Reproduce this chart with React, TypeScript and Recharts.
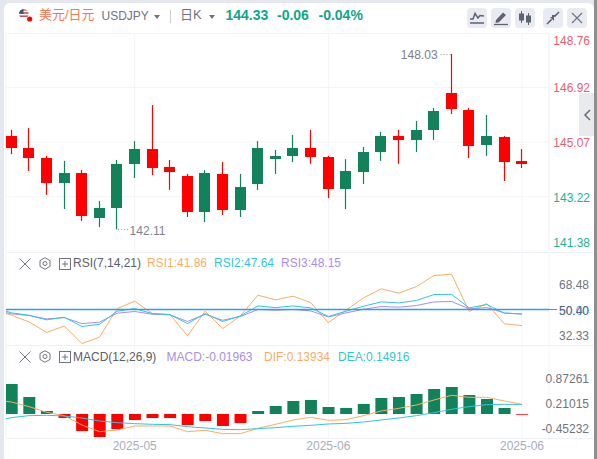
import React from "react";
import {
  ComposedChart, Bar, Line, XAxis, YAxis, CartesianGrid, ReferenceLine, ReferenceDot, Cell,
} from "recharts";

const FONT = '"Liberation Sans", "Noto Sans CJK SC", sans-serif';
const XDOMAIN: [number, number] = [-0.3124, 30.535];

const dateTicks = [7, 18, 29];
const dateLabels = ["2025-05", "2025-06", "2025-06"];

const priceTicks = [148.76, 146.92, 145.07, 143.22, 141.38];
const rsiTicks = [68.48, 50, 50.4, 32.33];
const macdTicks = [0.87261, 0.21015, -0.45232];

const opens = [144.87, 144.53, 143.68, 144.02, 142.57, 142.84, 144.33, 144.83, 144.19, 144.05, 142.7, 144.02, 142.77, 143.55, 144.87, 144.6, 144.87, 144.56, 143.48, 144.09, 144.73, 145.27, 145.14, 145.48, 146.12, 146.19, 144.93, 145.27, 144.39, 144.33];
const closes = [145.27, 144.87, 144.53, 143.68, 144.02, 142.5, 142.84, 144.33, 144.83, 144.22, 143.92, 142.7, 143.99, 142.77, 143.65, 144.49, 144.6, 144.87, 144.56, 143.48, 144.05, 144.73, 145.27, 145.14, 145.48, 146.73, 146.15, 144.97, 145.24, 144.43];
const highs = [145.48, 145.54, 144.6, 144.43, 144.12, 143.07, 144.46, 145.1, 146.32, 144.46, 143.99, 144.12, 144.39, 143.99, 145.1, 144.8, 145.31, 145.48, 144.6, 144.49, 144.9, 145.41, 145.48, 145.78, 146.22, 148.05, 146.22, 145.98, 145.27, 144.83];
const lows = [144.66, 144.09, 143.28, 142.8, 142.4, 142.19, 142.11, 143.85, 143.95, 143.45, 142.53, 142.36, 142.6, 142.53, 143.45, 143.99, 144.39, 144.33, 143.17, 142.8, 143.65, 144.43, 144.33, 144.73, 145.14, 146.02, 144.53, 144.6, 143.75, 144.19];

// Indicator series start one session before the first candle, running in from the left edge.
const rsi1 = [50, 45.9, 41.1, 33.5, 38.2, 25.5, 30.1, 50.7, 56, 47.1, 46.4, 31.1, 48.8, 36.3, 45.4, 60.3, 57, 59.6, 55, 40.6, 49.5, 58.4, 64.9, 61.8, 66.5, 74.5, 75.4, 48.6, 54.3, 39.7, 38.5];
const rsi2 = [51.7, 47.6, 45.9, 42.6, 44.5, 37.8, 39.4, 48.8, 50.7, 47.1, 46.4, 39.9, 47.1, 41.4, 45.4, 52.6, 51.4, 52.6, 51.2, 45, 48.8, 52.4, 55.5, 54.8, 56.5, 60.8, 61, 51.2, 53.6, 47.4, 46.9];
const rsi3 = [49.8, 46.9, 45.7, 43.3, 44.2, 39.9, 40.9, 47.4, 48.6, 46.6, 46.2, 41.4, 46.6, 42.3, 45, 50, 49.5, 50, 49, 44.7, 47.6, 50.2, 52.2, 51.7, 52.9, 55.5, 55.8, 50.5, 51.4, 47.6, 46.6];

const hist = [null, 0.796, 0.451, 0.08, -0.106, -0.451, -0.61, -0.398, -0.159, -0.106, -0.106, -0.292, -0.186, -0.318, -0.239, 0.08, 0.212, 0.345, 0.371, 0.186, 0.159, 0.265, 0.424, 0.451, 0.531, 0.663, 0.716, 0.504, 0.398, 0.159, -0.02];
const dif = [0.37, 0.318, 0.195, 0.044, -0.044, -0.292, -0.469, -0.424, -0.318, -0.318, -0.318, -0.469, -0.433, -0.522, -0.522, -0.38, -0.274, -0.159, -0.088, -0.168, -0.15, -0.044, 0.08, 0.15, 0.239, 0.371, 0.495, 0.442, 0.442, 0.345, 0.256];
const dea = [-0.186, -0.097, -0.044, -0.035, -0.053, -0.106, -0.186, -0.23, -0.256, -0.274, -0.283, -0.336, -0.371, -0.407, -0.416, -0.389, -0.363, -0.327, -0.301, -0.265, -0.248, -0.212, -0.159, -0.106, -0.044, 0.035, 0.124, 0.195, 0.248, 0.256, 0.256];

const RED = "#ff0000";
const GREEN = "#12825a";
const ORANGE = "#f9ad66";
const CYAN = "#33c5dc";
const PURPLE = "#a98ee9";
const BLUE = "#2f9cf5";
const GRID = "#f3f4f8";

const candles = opens.map((open, i) => ({
  i, open, close: closes[i], high: highs[i], low: lows[i], range: [lows[i], highs[i]],
}));
const rsiRows = rsi1.map((v, k) => ({ i: k - 1, rsi1: v, rsi2: rsi2[k], rsi3: rsi3[k] }));
const macdRows = hist.map((v, k) => ({ i: k - 1, hist: v, dif: dif[k], dea: dea[k] }));

function Candle(props: any) {
  const { x, y, width, height, payload } = props;
  const { open, close, high, low } = payload;
  const toY = (v: number) => y + ((high - v) / (high - low)) * height;
  const top = toY(Math.max(open, close));
  const bottom = toY(Math.min(open, close));
  const color = close >= open ? RED : GREEN;
  const cx = Math.floor(x + width / 2) + 0.5;
  return (
    <g>
      <line x1={cx} x2={cx} y1={y} y2={y + height} stroke={color} strokeWidth={1.2} />
      <rect x={cx - width / 2} y={Math.round(top)} width={width} height={Math.max(Math.round(bottom) - Math.round(top), 1)} fill={color} />
    </g>
  );
}

function PriceTick(props: any) {
  const { y, payload, index } = props;
  const v = payload.value;
  const color = v > 144.5 ? "#e4616f" : "#1fb093";
  const dy = index === 0 ? 8 : index === priceTicks.length - 1 ? -8 : 1;
  return (
    <text x={590} y={y + dy + 4} textAnchor="end" fontSize={12} fontFamily={FONT} fill={color}>
      {v.toFixed(2)}
    </text>
  );
}

function RsiTick(props: any) {
  const { y, payload } = props;
  const v = payload.value;
  const blue = v === 50;
  const mid = v === 50.4;
  return (
    <text x={589} y={(mid ? y + 0.5 : y) + 5.5} textAnchor="end" fontSize={12} fontFamily={FONT} fill={blue ? BLUE : mid ? "#5d6b82" : "#70747f"} fillOpacity={blue ? 0.85 : 1}>
      {v.toFixed(2)}
    </text>
  );
}

function MacdTick(props: any) {
  const { y, payload } = props;
  return (
    <text x={589} y={y + 1.5} textAnchor="end" fontSize={12} fontFamily={FONT} fill="#70747f">
      {payload.value.toFixed(5)}
    </text>
  );
}

function DateTick(props: any) {
  const { x, y, payload, index } = props;
  return (
    <text x={x} y={y + 4} textAnchor="middle" fontSize={12} fontFamily={FONT} fill="#a9adba">
      {dateLabels[index] ?? payload.value}
    </text>
  );
}

function HighMark(props: any) {
  const { cx, cy } = props;
  return (
    <g>
      <line x1={cx - 1} x2={cx - 13} y1={cy} y2={cy} stroke="#8d919c" strokeDasharray="1 2" />
      <text x={cx - 14} y={cy + 4} textAnchor="end" fontSize={12} fontFamily={FONT} fill="#7d818c">148.03</text>
    </g>
  );
}

function LowMark(props: any) {
  const { cx, cy } = props;
  return (
    <g>
      <line x1={cx + 1} x2={cx + 11} y1={cy} y2={cy} stroke="#8d919c" strokeDasharray="1 2" />
      <text x={cx + 12.5} y={cy + 5.5} textAnchor="start" fontSize={12} fontFamily={FONT} fill="#7d818c">142.11</text>
    </g>
  );
}

const abs = (s: React.CSSProperties): React.CSSProperties => ({ position: "absolute", whiteSpace: "nowrap", ...s });

function Txt({ x, y, c, size = 12, w = 400, children }: any) {
  return (
    <span style={abs({ left: x, top: y, color: c, fontSize: size, fontWeight: w, fontFamily: FONT, lineHeight: "16px" })}>
      {children}
    </span>
  );
}

function Btn({ x, children }: any) {
  return (
    <svg width={20} height={20} viewBox="0 0 20 20" style={abs({ left: x, top: 8 })}>
      <rect width={20} height={20} rx={4} fill="#e9ebf2" />
      {children}
    </svg>
  );
}

function RowIcons({ y }: { y: number }) {
  return (
    <>
      <svg width={12} height={12} viewBox="0 0 12 12" style={abs({ left: 19, top: y })}>
        <path d="M0.5 0.5L11.5 11.5M11.5 0.5L0.5 11.5" stroke="#70747f" strokeWidth={1} fill="none" />
      </svg>
      <svg width={12} height={13} viewBox="0 0 12 13" style={abs({ left: 39, top: y - 0.5 })}>
        <path d="M6 0.7L11 3.6V9.4L6 12.3L1 9.4V3.6Z" stroke="#70747f" fill="none" />
        <circle cx={6} cy={6.5} r={2} stroke="#70747f" fill="none" />
      </svg>
      <svg width={12} height={12} viewBox="0 0 12 12" style={abs({ left: 59, top: y })}>
        <rect x={0.5} y={0.5} width={11} height={11} stroke="#70747f" fill="none" />
        <path d="M3 6H9M6 3V9" stroke="#70747f" fill="none" />
      </svg>
    </>
  );
}

const Caret = ({ x }: { x: number }) => (
  <svg width={6} height={4} style={abs({ left: x, top: 14.5 })}>
    <path d="M0 0H6L3 4Z" fill="#70747f" />
  </svg>
);

export default function App() {
  const axisProps = {
    type: "number" as const,
    dataKey: "i",
    domain: XDOMAIN,
    allowDataOverflow: true,
    ticks: dateTicks,
    interval: 0 as const,
    tickLine: false,
    axisLine: false,
  };
  const chartMargin = { top: 0, right: 0, bottom: 0, left: 6 };
  return (
    <div style={abs({ left: 0, top: 0, width: 597, height: 459, overflow: "hidden", background: "#e5e7ee" })}>
      <div style={abs({ left: 4, top: 3, width: 590, height: 470, background: "#fff", borderRadius: 6 })} />
      <div style={abs({ left: 594, top: 0, width: 3, height: 459, background: "#8f8f8f" })} />

      {/* header */}
      <svg width={16} height={16} style={abs({ left: 18, top: 8 })}>
        <clipPath id="flag"><circle cx={5.8} cy={6} r={4.8} /></clipPath>
        <g clipPath="url(#flag)">
          <rect x={0} y={0} width={12} height={12} fill="#fff" />
          <rect x={0} y={1} width={12} height={1.6} fill="#c9515f" />
          <rect x={0} y={4.2} width={12} height={1.6} fill="#c9515f" />
          <rect x={0} y={7.4} width={12} height={1.6} fill="#c9515f" />
          <rect x={0} y={0} width={5.5} height={5.8} fill="#4a4f78" />
        </g>
        <circle cx={11.7} cy={11} r={2.6} fill="#ff0000" />
      </svg>
      <Txt x={39} y={7} c="#f5784f" size={13}>美元/日元</Txt>
      <Txt x={101.5} y={8} c="#70747f" size={12}>USDJPY</Txt>
      <Caret x={153.5} />
      <div style={abs({ left: 170, top: 10, width: 1, height: 13, background: "#c9ccd6" })} />
      <Txt x={180} y={7} c="#70747f" size={13}>日K</Txt>
      <Caret x={208.5} />
      <Txt x={225.5} y={7} c="#0fa688" size={14} w={700}>144.33</Txt>
      <Txt x={277} y={7} c="#0fa688" size={14} w={700}>-0.06</Txt>
      <Txt x={318.5} y={7} c="#0fa688" size={14} w={700}>-0.04%</Txt>

      <Btn x={467}>
        <path d="M3 11L6 11L8 5.5L11 10L13 7.5L17 8M3 15H17" stroke="#5e6370" strokeWidth={1.5} fill="none" />
      </Btn>
      <Btn x={491}>
        <path d="M5 12L12 4.5L15 7L8 14.2L4.5 15Z" fill="#5e6370" />
        <path d="M3 16.5H17" stroke="#5e6370" strokeWidth={1.3} />
      </Btn>
      <Btn x={515}>
        <path d="M6.5 3V15M13.5 5V17" stroke="#5e6370" />
        <rect x={4} y={5.5} width={5} height={7} fill="#5e6370" />
        <rect x={11} y={7.5} width={5} height={7} fill="#5e6370" />
      </Btn>
      <Btn x={543}>
        <path d="M4 16L8.6 11.4M16 4L11.4 8.6" stroke="#5e6370" strokeWidth={1.5} />
        <path d="M7 9H11V13Z M9 7H13L9 11Z" fill="#5e6370" />
      </Btn>
      <Btn x={567}>
        <path d="M5 5L15 15M15 5L5 15" stroke="#70747f" strokeWidth={1.2} fill="none" />
      </Btn>

      {/* price pane */}
      <div style={abs({ left: 6, top: 33, width: 543, height: 1, background: GRID })} />
      <div style={abs({ left: 0, top: 33 })}>
        <ComposedChart width={597} height={218} data={candles} margin={chartMargin}>
          <CartesianGrid stroke={GRID} />
          <XAxis {...axisProps} hide />
          <YAxis
            orientation="right"
            width={48}
            domain={[141.38, 148.76]}
            ticks={priceTicks}
            interval={0}
            allowDataOverflow
            tickLine={false}
            axisLine={{ stroke: GRID }}
            tick={<PriceTick />}
          />
          <Bar dataKey="range" barSize={11} isAnimationActive={false} shape={<Candle />} />
          <ReferenceDot x={25} y={148.03} r={0} shape={<HighMark />} />
          <ReferenceDot x={6} y={142.11} r={0} shape={<LowMark />} />
        </ComposedChart>
      </div>
      <div style={abs({ left: 579, top: 93, width: 15, height: 43, background: "#e9eaee" })} />
      <svg width={10} height={12} style={abs({ left: 583, top: 109 })}>
        <path d="M7 1L2 6L7 11" stroke="#6b7080" strokeWidth={1.6} fill="none" />
      </svg>

      {/* RSI pane */}
      <div style={abs({ left: 6, top: 252, width: 588, height: 1, background: "#eff0f5" })} />
      <div style={abs({ left: 0, top: 252 })}>
        <ComposedChart width={597} height={93} data={rsiRows} margin={chartMargin}>
          <CartesianGrid stroke={GRID} horizontal={false} />
          <XAxis {...axisProps} hide />
          <YAxis
            orientation="right"
            width={48}
            domain={[24.5, 91.4]}
            ticks={rsiTicks}
            interval={0}
            allowDataOverflow
            tickLine={false}
            axisLine={false}
            tick={<RsiTick />}
          />
          <Line dataKey="rsi1" stroke={ORANGE} strokeWidth={1} dot={false} isAnimationActive={false} />
          <Line dataKey="rsi3" stroke={PURPLE} strokeWidth={1} dot={false} isAnimationActive={false} />
          <Line dataKey="rsi2" stroke={CYAN} strokeWidth={1} dot={false} isAnimationActive={false} />
          <ReferenceLine y={50} stroke={BLUE} strokeWidth={1.5} />
        </ComposedChart>
      </div>
      <div style={abs({ left: 549, top: 308.8, width: 8, height: 1.5, background: BLUE })} />
      <RowIcons y={257.5} />
      <Txt x={73} y={255} c="#5a5e6a">RSI(7,14,21)</Txt>
      <Txt x={147} y={255} c={ORANGE}>RSI1:41.86</Txt>
      <Txt x={214} y={255} c={CYAN}>RSI2:47.64</Txt>
      <Txt x={281} y={255} c={PURPLE}>RSI3:48.15</Txt>

      {/* MACD pane */}
      <div style={abs({ left: 6, top: 345, width: 588, height: 1, background: "#eff0f5" })} />
      <div style={abs({ left: 0, top: 345 })}>
        <ComposedChart width={597} height={114} data={macdRows} margin={chartMargin}>
          <CartesianGrid stroke={GRID} horizontal={false} />
          <XAxis {...axisProps} height={21} tick={<DateTick />} />
          <YAxis
            orientation="right"
            width={48}
            domain={[-0.637, 1.83]}
            ticks={macdTicks}
            interval={0}
            allowDataOverflow
            tickLine={false}
            axisLine={false}
            tick={<MacdTick />}
          />
          <Bar dataKey="hist" barSize={12} isAnimationActive={false}>
            {macdRows.map((r) => (
              <Cell key={r.i} fill={(r.hist ?? 0) >= 0 ? GREEN : RED} />
            ))}
          </Bar>
          <Line dataKey="dif" stroke={ORANGE} strokeWidth={1} dot={false} isAnimationActive={false} />
          <Line dataKey="dea" stroke={CYAN} strokeWidth={1} dot={false} isAnimationActive={false} />
        </ComposedChart>
      </div>
      <div style={abs({ left: 6, top: 438, width: 588, height: 1, background: "#eff0f5" })} />
      <RowIcons y={350.5} />
      <Txt x={73} y={348.5} c="#5a5e6a">MACD(12,26,9)</Txt>
      <Txt x={166.5} y={348.5} c={PURPLE}>MACD:-0.01963</Txt>
      <Txt x={264} y={348.5} c={ORANGE}>DIF:0.13934</Txt>
      <Txt x={338} y={348.5} c={CYAN}>DEA:0.14916</Txt>
    </div>
  );
}
